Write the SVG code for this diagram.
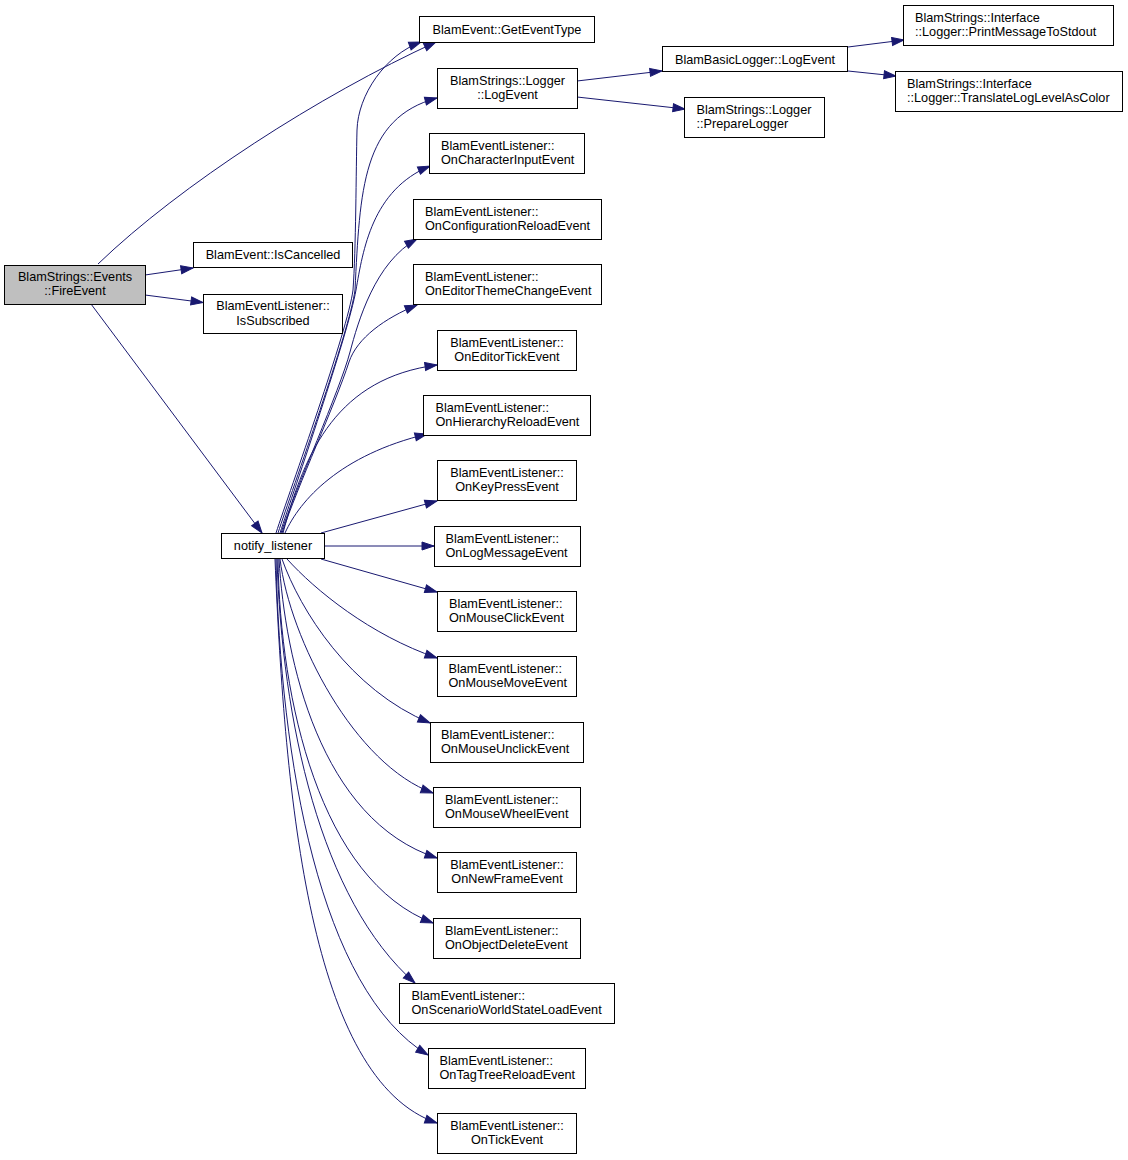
<svg xmlns="http://www.w3.org/2000/svg" width="1128" height="1160" viewBox="0 0 1128 1160">
<style>
.n rect{fill:#ffffff;stroke:#000000;stroke-width:1}
.root rect{fill:#bfbfbf}
text{font-family:"Liberation Sans",Arial,sans-serif;font-size:12.7px;fill:#000000}
.c{text-anchor:middle}
.e path{fill:none;stroke:#191970;stroke-width:1;marker-end:url(#arr)}
</style>
<defs>
<marker id="arr" markerWidth="16" markerHeight="12" refX="12" refY="4.5" orient="auto" markerUnits="userSpaceOnUse" overflow="visible">
<path d="M0,0.5 L12,4.5 L0,8.5 z" fill="#191970" stroke="#191970" stroke-width="1"/>
</marker>
</defs>
<rect width="1128" height="1160" fill="#ffffff"/>
<g id="edges" class="e">
<path d="M98,264 C180,185 320,95 436,42"/>
<path d="M145,275 L193,268"/>
<path d="M145,295 L203,302.5"/>
<path d="M91,304 L262,533"/>
<path d="M276,533 C290,490 348,330 353,290 C356,250 356,170 357,130 C358,95 385,55 421,42"/>
<path d="M278,533 C292,490 350,330 355,290 C360,190 362,118 437,98"/>
<path d="M280,533 C294,490 348,335 356,290 C363,250 372,190 430,166"/>
<path d="M281,533 C295,490 340,390 350,352 C358,322 375,262 417,239"/>
<path d="M282,533 C298,485 335,405 349,362 C357,338 385,318 417,305"/>
<path d="M283,533 C305,450 338,378 437,365"/>
<path d="M285,533 C300,500 340,455 427,434"/>
<path d="M321,533 L437,501"/>
<path d="M324,546 L434,546"/>
<path d="M321,559 L437,592"/>
<path d="M287,559 C315,590 370,635 437,658"/>
<path d="M282,559 C300,610 350,690 430,723"/>
<path d="M280,559 C290,640 355,765 433,793"/>
<path d="M279,559 C285,660 320,820 437,858"/>
<path d="M278,559 C280,700 320,880 433,923"/>
<path d="M277,559 C282,720 320,900 415,983"/>
<path d="M276,559 C280,760 320,990 428,1055"/>
<path d="M275,559 C285,800 310,1080 437,1123"/>
<path d="M577,81 L662,71"/>
<path d="M577,97 L685,109"/>
<path d="M848,47 L904,40"/>
<path d="M848,71 L896,76"/>
</g>
<g id="fireEvent" class="n root"><rect x="4.5" y="265.5" width="141" height="39"/><text class="c" x="75" y="281">BlamStrings::Events</text><text class="c" x="75" y="295">::FireEvent</text></g>
<g id="getEventType" class="n"><rect x="419.5" y="16.5" width="175" height="26"/><text class="c" x="507" y="34">BlamEvent::GetEventType</text></g>
<g id="isCancelled" class="n"><rect x="193.5" y="242.5" width="159" height="25"/><text class="c" x="273" y="259">BlamEvent::IsCancelled</text></g>
<g id="isSubscribed" class="n"><rect x="203.5" y="294.5" width="139" height="39"/><text class="c" x="273" y="310">BlamEventListener::</text><text class="c" x="273" y="324.5">IsSubscribed</text></g>
<g id="notifyListener" class="n"><rect x="221.5" y="533.5" width="103" height="25"/><text class="c" x="273" y="550">notify_listener</text></g>
<g id="loggerLogEvent" class="n"><rect x="437.5" y="68.5" width="140" height="40"/><text class="c" x="507.5" y="84.5">BlamStrings::Logger</text><text class="c" x="507.5" y="99">::LogEvent</text></g>
<g id="onCharacterInputEvent" class="n"><rect x="429.5" y="133.5" width="155" height="40"/><text x="441" y="149.5">BlamEventListener::</text><text x="441" y="164">OnCharacterInputEvent</text></g>
<g id="onConfigurationReloadEvent" class="n"><rect x="413.5" y="199.5" width="188" height="40"/><text x="425" y="215.5">BlamEventListener::</text><text x="425" y="230">OnConfigurationReloadEvent</text></g>
<g id="onEditorThemeChangeEvent" class="n"><rect x="413.5" y="264.5" width="188" height="40"/><text x="425" y="280.5">BlamEventListener::</text><text x="425" y="295">OnEditorThemeChangeEvent</text></g>
<g id="onEditorTickEvent" class="n"><rect x="437.5" y="330.5" width="139" height="40"/><text class="c" x="507" y="346.5">BlamEventListener::</text><text class="c" x="507" y="361">OnEditorTickEvent</text></g>
<g id="onHierarchyReloadEvent" class="n"><rect x="423.5" y="395.5" width="167" height="40"/><text x="435.5" y="411.5">BlamEventListener::</text><text x="435.5" y="426">OnHierarchyReloadEvent</text></g>
<g id="onKeyPressEvent" class="n"><rect x="437.5" y="460.5" width="139" height="40"/><text class="c" x="507" y="476.5">BlamEventListener::</text><text class="c" x="507" y="491">OnKeyPressEvent</text></g>
<g id="onLogMessageEvent" class="n"><rect x="434.5" y="526.5" width="146" height="40"/><text x="445.5" y="542.5">BlamEventListener::</text><text x="445.5" y="557">OnLogMessageEvent</text></g>
<g id="onMouseClickEvent" class="n"><rect x="437.5" y="591.5" width="139" height="40"/><text x="449" y="607.5">BlamEventListener::</text><text x="449" y="622">OnMouseClickEvent</text></g>
<g id="onMouseMoveEvent" class="n"><rect x="437.5" y="656.5" width="139" height="40"/><text x="448.5" y="672.5">BlamEventListener::</text><text x="448.5" y="687">OnMouseMoveEvent</text></g>
<g id="onMouseUnclickEvent" class="n"><rect x="430.5" y="722.5" width="153" height="40"/><text x="441" y="738.5">BlamEventListener::</text><text x="441" y="753">OnMouseUnclickEvent</text></g>
<g id="onMouseWheelEvent" class="n"><rect x="433.5" y="787.5" width="147" height="40"/><text x="445" y="803.5">BlamEventListener::</text><text x="445" y="818">OnMouseWheelEvent</text></g>
<g id="onNewFrameEvent" class="n"><rect x="437.5" y="852.5" width="139" height="40"/><text class="c" x="507" y="868.5">BlamEventListener::</text><text class="c" x="507" y="883">OnNewFrameEvent</text></g>
<g id="onObjectDeleteEvent" class="n"><rect x="433.5" y="918.5" width="147" height="40"/><text x="445" y="934.5">BlamEventListener::</text><text x="445" y="949">OnObjectDeleteEvent</text></g>
<g id="onScenarioWorldStateLoadEvent" class="n"><rect x="399.5" y="983.5" width="215" height="40"/><text x="411.5" y="999.5">BlamEventListener::</text><text x="411.5" y="1014">OnScenarioWorldStateLoadEvent</text></g>
<g id="onTagTreeReloadEvent" class="n"><rect x="428.5" y="1048.5" width="157" height="40"/><text x="439.5" y="1064.5">BlamEventListener::</text><text x="439.5" y="1079">OnTagTreeReloadEvent</text></g>
<g id="onTickEvent" class="n"><rect x="437.5" y="1113.5" width="139" height="40"/><text class="c" x="507" y="1129.5">BlamEventListener::</text><text class="c" x="507" y="1144">OnTickEvent</text></g>
<g id="basicLoggerLogEvent" class="n"><rect x="662.5" y="46.5" width="185" height="25"/><text class="c" x="755" y="63.5">BlamBasicLogger::LogEvent</text></g>
<g id="prepareLogger" class="n"><rect x="684.5" y="97.5" width="140" height="40"/><text x="696.5" y="113.5">BlamStrings::Logger</text><text x="696.5" y="128">::PrepareLogger</text></g>
<g id="printMessageToStdout" class="n"><rect x="903.5" y="5.5" width="210" height="40"/><text x="915" y="21.5">BlamStrings::Interface</text><text x="915" y="36">::Logger::PrintMessageToStdout</text></g>
<g id="translateLogLevelAsColor" class="n"><rect x="895.5" y="71.5" width="227" height="40"/><text x="907" y="87.5">BlamStrings::Interface</text><text x="907" y="102">::Logger::TranslateLogLevelAsColor</text></g>
</svg>
